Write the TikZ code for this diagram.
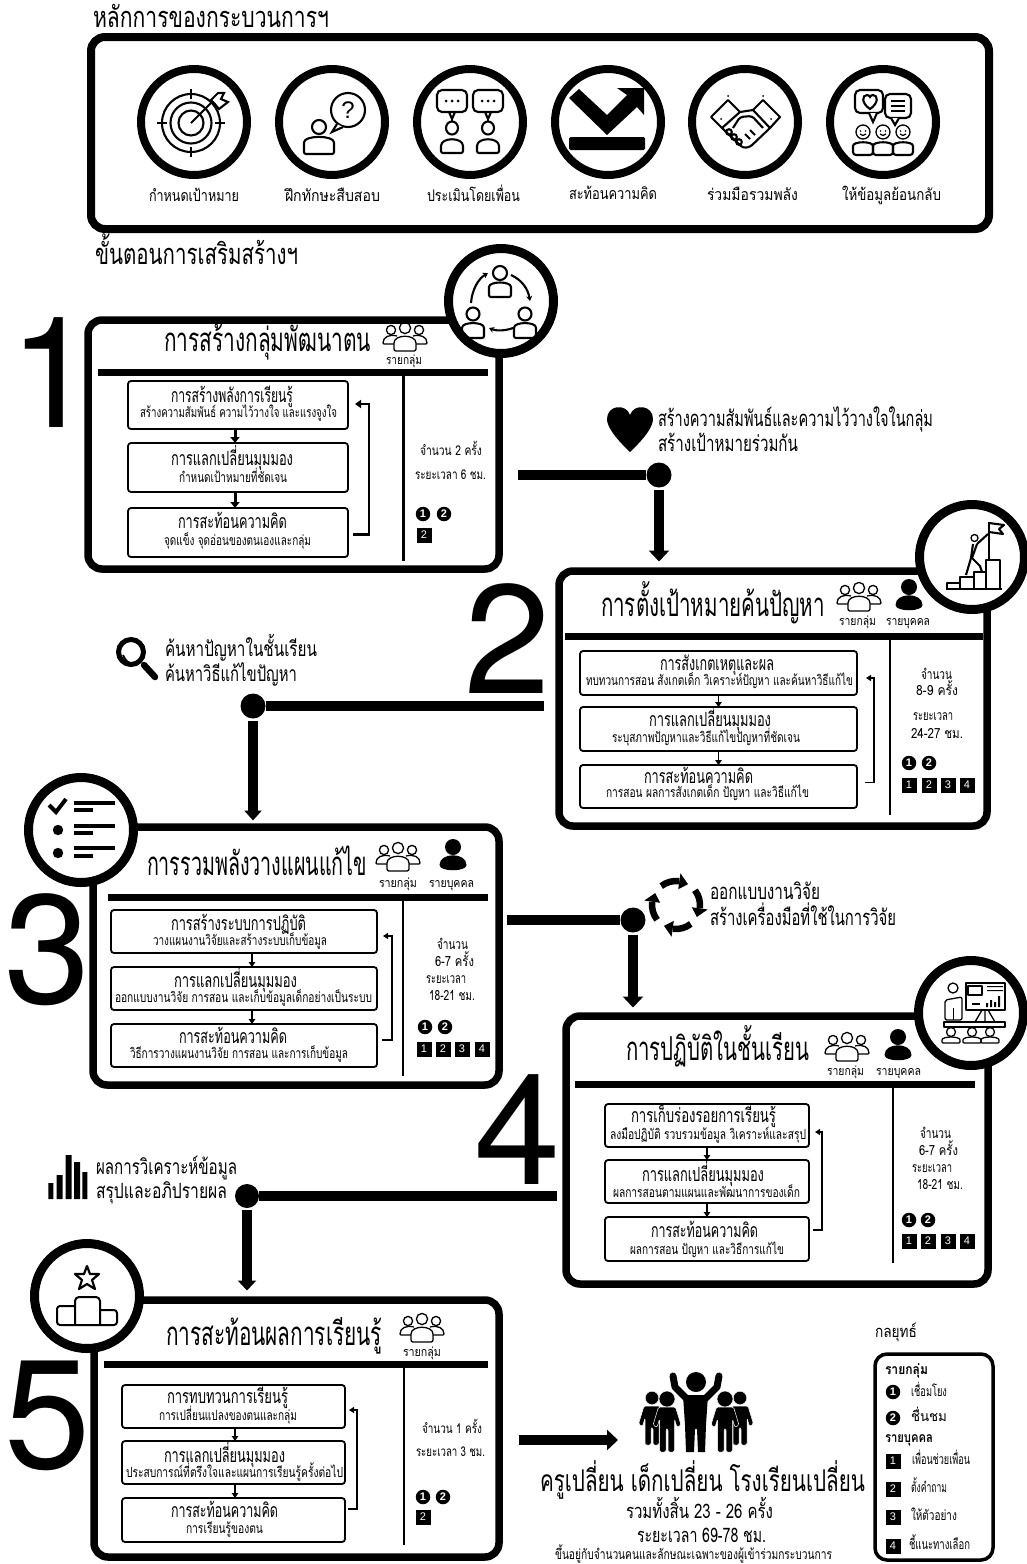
\documentclass[tikz,border=0pt]{standalone}
\usepackage{fontspec}
\usepackage{graphicx}
\usetikzlibrary{arrows.meta,calc}
\setmainfont{Liberation Sans}
\newfontfamily\thaif[Script=Thai]{Loma}
\newfontfamily\numf{TeX Gyre Heros}

\newsavebox\lblbox
\newcounter{lblnum}
\newcounter{chipnum}
% thai label set at size #5, stretched to span #2..#3 on the line centred at #4
\newcommand\lbl[6][]{%
  \stepcounter{lblnum}%
  \node[anchor=base,inner sep=0pt,outer sep=0pt] (t\arabic{lblnum}) at ({(#2+#3)/2},{#4+.27*#5}) {%
    \sbox\lblbox{\fontsize{#5}{#5}\selectfont\thaif #1{}#6}%
    \pgfmathsetmacro\lblnat{\the\wd\lblbox}%
    \pgfmathsetmacro\lblsc{(#3-#2)/\lblnat}%
    \scalebox{\lblsc}[1]{\usebox\lblbox}};%
}
% rectangle node from its edge coordinates
\newcommand\rectnode[6]{%
  \pgfmathsetmacro\rw{#5-#3}\pgfmathsetmacro\rh{#6-#4}%
  \node[#1,minimum width=\rw pt,minimum height=\rh pt] (#2) at ({(#3+#5)/2},{(#4+#6)/2}) {};%
}
\newcommand\roundchip[3]{\stepcounter{chipnum}\node[chipr] (ch\arabic{chipnum}) at (#1,#2) {#3};}
\newcommand\squarechip[3]{\stepcounter{chipnum}\node[chips] (ch\arabic{chipnum}) at (#1,#2) {#3};}
% outlined bust: x, head y, head radius, half width, base y
\newcommand\bust[5]{%
  \draw[icm] (#1,#2) circle (#3);
  \draw[icm,rounded corners=2pt] ({#1-#4},#5) -- ({#1-#4},{#5-(#5-#2-#3-1)*.5}) .. controls ({#1-#4},{#2+#3+1}) and ({#1+#4},{#2+#3+1}) .. ({#1+#4},{#5-(#5-#2-#3-1)*.5}) -- ({#1+#4},#5) -- cycle;
}
% group of three, outlined
\newcommand\groupicon[2]{%
  \begin{scope}[shift={(#1,#2)}]
    \draw[icl] (0,-9) circle (5.6);
    \draw[icl] (-14,-7) circle (4.6);
    \draw[icl] (14,-7) circle (4.6);
    \draw[icl,rounded corners=2pt] (-11,14) -- (-11,8) .. controls (-11,-3) and (11,-3) .. (11,8) -- (11,14) -- cycle;
    \draw[icl,rounded corners=1pt] (-8,-1) .. controls (-16,-3) and (-22,0) .. (-22,7) -- (-11,7);
    \draw[icl,rounded corners=1pt] (8,-1) .. controls (16,-3) and (22,0) .. (22,7) -- (11,7);
  \end{scope}}
% single solid figure
\newcommand\soloicon[2]{%
  \begin{scope}[shift={(#1,#2)}]
    \fill (0,-8) circle (8);
    \fill (-13.5,10) .. controls (-13.5,-3) and (13.5,-3) .. (13.5,10) .. controls (13.5,17) and (-13.5,17) .. (-13.5,10) -- cycle;
  \end{scope}}
% solid standing figure for the crowd: x, head y, head radius, half width, leg end
\newcommand\standman[5]{%
  \begin{scope}[shift={(#1,#2)}]
    \fill[draw=white,line width=.5pt] (0,0) circle (#3);
    \fill[draw=white,line width=.5pt,rounded corners=1.5pt] ({-#4},8) -- (#4,8) -- ({#4+5.5},26) -- ({#4+1.5},28.5) -- ({#4-1},20) -- ({#4-1},#5) -- (1,#5) -- (1,30) -- (-1,30) -- (-1,#5) -- ({-#4+1},#5) -- ({-#4+1},20) -- ({-#4-1.5},28.5) -- ({-#4-5.5},26) -- cycle;
  \end{scope}}

\tikzset{
  panel/.style={draw=black,line width=7.5pt,rounded corners=14pt,fill=white,inner sep=0pt,outer sep=0pt},
  stagebox/.style={draw=black,line width=1.8pt,rounded corners=3pt,fill=white,inner sep=0pt,outer sep=0pt},
  badge/.style={circle,draw=black,line width=8pt,fill=white,inner sep=0pt,minimum size=106pt},
  joint/.style={circle,fill=black,inner sep=0pt,minimum size=25pt},
  trunk/.style={line width=10pt},
  flow/.style={line width=10.5pt,-{Triangle[width=20pt,length=11pt]}},
  stepthick/.style={line width=3pt,-{Triangle[width=9pt,length=6pt]}},
  stepthin/.style={line width=1.6pt,-{Triangle[width=6.5pt,length=5pt]}},
  backthick/.style={line width=2.4pt,-{Triangle[width=8pt,length=6pt]}},
  backthin/.style={line width=1.7pt,-{Triangle[width=6pt,length=5pt]}},
  rule/.style={line width=7pt},
  split/.style={line width=2.5pt},
  icl/.style={line width=1.3pt},
  icm/.style={line width=2.1pt},
  chipr/.style={circle,fill=black,text=white,inner sep=0pt,minimum size=14.5pt,font=\fontsize{11}{11}\selectfont\bfseries},
  chips/.style={rectangle,fill=black,text=white,inner sep=0pt,minimum size=15pt,font=\fontsize{11}{11}\selectfont},
  bignum/.style={inner sep=0pt,outer sep=0pt,font=\fontsize{155}{155}\selectfont\numf}
}

\begin{document}
\begin{tikzpicture}[x=1pt,y=-1pt]
\useasboundingbox (0,0) rectangle (1027,1564);
\fill[white] (0,0) rectangle (1027,1564);

% ---- principles ----
\lbl{93}{329}{20}{29}{หลักการของกระบวนการฯ}
\rectnode{panel,line width=8pt}{principles}{91}{37}{989}{229}
\node[badge] (c1) at (194,122) {};
\node[badge] (c2) at (332,122) {};
\node[badge] (c3) at (470,122) {};
\node[badge] (c4) at (608,122) {};
\node[badge] (c5) at (745,122) {};
\node[badge] (c6) at (883,122) {};
\lbl{149}{239}{197}{16}{กำหนดเป้าหมาย}
\lbl{285}{380}{197}{16}{ฝึกทักษะสืบสอบ}
\lbl{427}{520}{197}{16}{ประเมินโดยเพื่อน}
\lbl{569}{657}{195}{16}{สะท้อนความคิด}
\lbl{707}{798}{196}{16}{ร่วมมือรวมพลัง}
\lbl{842}{941}{196}{16}{ให้ข้อมูลย้อนกลับ}

% target
\begin{scope}[shift={(191,123)}]
  \draw[icm] (0,0) circle (29) (0,0) circle (20.5) (0,0) circle (12.5);
  \draw[icm] (0,-34) -- (0,-24) (0,34) -- (0,24) (-34,0) -- (-24,0) (34,0) -- (24,0);
  \draw[icm] (0,0) -- (23,-23);
  \draw[icm,fill=white] (20,-23) -- (27,-30) -- (33,-30) -- (30,-24) -- (37,-21) -- (28,-14) -- (23,-20) -- cycle;
\end{scope}
% asking person
\begin{scope}[shift={(332,122)}]
  \bust{-13}{5}{7}{15}{32}
  \draw[icm] (16,-12) circle (17);
  \draw[icm,fill=white] (5,2) -- (0,10) -- (11,5);
  \node[inner sep=0pt] (qmark) at (16,-12) {\fontsize{24}{24}\selectfont ?};
\end{scope}
% peer talk
\begin{scope}[shift={(470,122)}]
  \foreach \s in {-18,18} {
    \draw[icm,rounded corners=5pt] ({\s-15},-32) rectangle ({\s+15},-10);
    \fill ({\s-6},-21) circle (1.5) (\s,-21) circle (1.5) ({\s+6},-21) circle (1.5);
    \draw[icm] ({\s-3},-10) -- (\s,-3) -- ({\s+3},-10);
    \draw[icm] (\s,-3) -- (\s,0);
    \draw[icm] (\s,6) ellipse (6 and 6.5);
    \draw[icm,rounded corners=2pt] ({\s-11},31) -- ({\s-11},26) .. controls ({\s-11},15) and ({\s+11},15) .. ({\s+11},26) -- ({\s+11},31) -- cycle;
  }
\end{scope}
% reflect arrow
\begin{scope}[shift={(608,120)}]
  \fill (-39,-22) -- (-29,-31) -- (-1,-5) -- (19,-25) -- (9,-32) -- (36,-32) -- (36,-5) -- (29,-13) -- (-1,15) -- cycle;
  \fill[rounded corners=1.5pt] (-39,17) rectangle (37,30);
\end{scope}
% handshake
\begin{scope}[shift={(745,120)}]
  \draw[icm,line join=round] (-34,-3) -- (-17,-20) -- (-5,-8) -- (-23,8) -- cycle;
  \draw[icm,line join=round] (35,-3) -- (18,-20) -- (8,-10) -- (25,8) -- cycle;
  \draw[icm,rounded corners=2pt] (-5,-8) -- (8,-10);
  \draw[icm,rounded corners=3pt] (-23,8) -- (-2,28) -- (5,27) -- (25,8);
  \draw[icm,rounded corners=3pt] (-12,8) -- (-5,-3) -- (7,-4) -- (18,8);
  \draw[icm] (-16,12) circle (2.8) (-11,17) circle (2.8) (-6,22) circle (2.8);
  \draw[icm] (0,14) -- (5,19) (5,10) -- (10,15);
  \fill (-24,-1) circle (1) (26,-1) circle (1) (-17,-24) circle (1) (18,-24) circle (1);
\end{scope}
% feedback
\begin{scope}[shift={(883,120)}]
  \draw[icm,rounded corners=5pt] (-28,-30) rectangle (0,-7);
  \draw[icm,fill=white] (-14,-7) -- (-10,2) -- (-6,-7);
  \draw[icm] (-13,-11) .. controls (-22,-17) and (-21,-25) .. (-16,-25) .. controls (-14.5,-25) and (-13.5,-24) .. (-13,-23) .. controls (-12.5,-24) and (-11.5,-25) .. (-10,-25) .. controls (-5,-25) and (-4,-17) .. (-13,-11) -- cycle;
  \draw[icm,rounded corners=5pt,fill=white] (2,-26) rectangle (28,-2);
  \draw[icm,fill=white] (8,-2) -- (12,5) -- (16,-2);
  \draw[icm] (8,-19) -- (22,-19) (8,-14) -- (22,-14) (8,-9) -- (22,-9);
  \foreach \s in {-20,0,20} {
    \draw[icl] (\s,12) circle (7);
    \fill ({\s-2.5},11) circle (.8) ({\s+2.5},11) circle (.8);
    \draw[icl] ({\s-3},14) .. controls ({\s-1},16) and ({\s+1},16) .. ({\s+3},14);
    \draw[icm,rounded corners=3pt] ({\s-10},35) -- ({\s-10},29) .. controls ({\s-10},21) and ({\s+10},21) .. ({\s+10},29) -- ({\s+10},35) -- cycle;
  }
\end{scope}

\lbl{95}{298}{257}{29}{ขั้นตอนการเสริมสร้างฯ}

% ---- stage panels first, so the links can name them ----
\rectnode{panel}{p2}{559}{571}{987}{826}
\rectnode{panel}{p3}{93}{827}{499}{1085}
\rectnode{panel}{p4}{566}{1016}{988}{1284}
\rectnode{panel}{p5}{94}{1300}{499}{1557}

% ---- stage 1 ----
\node[bignum] (n1) at (53,373) {1};
\rectnode{panel}{p1}{88}{320}{499}{569}
\draw[rule] (98,372) -- (488,372);
\draw[split] (403.5,375) -- (403.5,561);
\lbl{164}{371}{343}{33}{การสร้างกลุ่มพัฒนาตน}
\groupicon{405}{337}
\lbl{386}{422}{361}{12.5}{รายกลุ่ม}
\rectnode{stagebox}{p1a}{128}{381}{348}{429}
\rectnode{stagebox}{p1b}{128}{443}{348}{492}
\rectnode{stagebox}{p1c}{128}{508}{348}{557}
\lbl{171}{293}{397}{19.5}{การสร้างพลังการเรียนรู้}
\lbl{140}{337}{414}{14}{สร้างความสัมพันธ์ ความไว้วางใจ และแรงจูงใจ}
\lbl{171}{293}{460}{19.5}{การแลกเปลี่ยนมุมมอง}
\lbl{179}{287}{479}{14}{กำหนดเป้าหมายที่ชัดเจน}
\lbl{178}{287}{523}{19.5}{การสะท้อนความคิด}
\lbl{164}{311}{542}{14}{จุดแข็ง จุดอ่อนของตนเองและกลุ่ม}
\draw[stepthick] ([xshift=-3pt]p1a.south) -- ([xshift=-3pt]p1b.north);
\draw[stepthick] ([xshift=-3pt]p1b.south) -- ([xshift=-3pt]p1c.north);
\draw[backthick] ([shift={(5,2)}]p1c.east) -- ++(16,0) |- ([shift={(7,-1)}]p1a.east);
\lbl{420}{482}{452}{13.5}{จำนวน 2 ครั้ง}
\lbl{415}{486}{476}{13.5}{ระยะเวลา 6 ชม.}
\roundchip{423}{514}{1}\roundchip{444}{514}{2}
\squarechip{424}{535}{2}
\node[badge,minimum size=105pt,line width=9pt] (b1) at (501,301) {};
\begin{scope}
  \bust{500}{273}{7}{11}{297}
  \bust{473}{314}{6.5}{11}{338}
  \bust{525}{314}{6.5}{11}{338}
  \draw[icm,-{Stealth[width=6pt,length=5pt]}] (471,303) .. controls (472,290) and (478,279) .. (488,273);
  \draw[icm,-{Stealth[width=6pt,length=5pt]}] (511,275) .. controls (522,280) and (528,289) .. (530,301);
  \draw[icm,-{Stealth[width=6pt,length=5pt]}] (513,328) .. controls (505,331) and (496,331) .. (489,328);
\end{scope}
% link 1 to 2
\node[joint] (d1) at (659,475) {};
\coordinate (s1) at (518,475);
\draw[trunk] (s1) -- (d1);
\draw[flow] ([yshift=-2pt]d1.south) -- ([yshift=9.5pt]d1.south |- p2.north);
\fill (630,452) .. controls (612,435) and (607,425) .. (607,419) .. controls (607,405) and (626,403) .. (630,415) .. controls (634,403) and (653,405) .. (653,419) .. controls (653,425) and (648,435) .. (630,452) -- cycle;
\lbl{658}{933}{421}{22}{สร้างความสัมพันธ์และความไว้วางใจในกลุ่ม}
\lbl{658}{798}{446}{22}{สร้างเป้าหมายร่วมกัน}

% ---- stage 2 ----
\node[bignum] (n2) at (508,639) {2};
\draw[rule] (565,636) -- (983,636);
\draw[split] (890,640) -- (890,815);
\lbl{601}{825}{608}{33}{การตั้งเป้าหมายค้นปัญหา}
\groupicon{859}{597}
\soloicon{909}{595}
\lbl{839}{876}{622}{12.5}{รายกลุ่ม}
\lbl{886}{930}{622}{12.5}{รายบุคคล}
\rectnode{stagebox}{p2a}{580}{651}{857}{695}
\rectnode{stagebox}{p2b}{580}{707}{857}{751}
\rectnode{stagebox}{p2c}{580}{765}{857}{808}
\lbl{660}{774}{665}{19.5}{การสังเกตเหตุและผล}
\lbl{586}{853}{682}{14}{ทบทวนการสอน สังเกตเด็ก วิเคราะห์ปัญหา และค้นหาวิธีแก้ไข}
\lbl{649}{771}{721}{19.5}{การแลกเปลี่ยนมุมมอง}
\lbl{612}{800}{739}{14}{ระบุสภาพปัญหาและวิธีแก้ไขปัญหาที่ชัดเจน}
\lbl{644}{753}{778}{19.5}{การสะท้อนความคิด}
\lbl{606}{809}{794}{14}{การสอน ผลการสังเกตเด็ก ปัญหา และวิธีแก้ไข}
\draw[stepthin] (p2a.south) -- (p2b.north);
\draw[stepthin] (p2b.south) -- (p2c.north);
\draw[backthin] ([shift={(8,-4)}]p2c.east) -- ++(9,0) |- ([shift={(9,5)}]p2a.east);
\lbl{921}{952}{676}{14}{จำนวน}
\lbl{916}{958}{692}{14}{8-9 ครั้ง}
\lbl{913}{953}{717}{14}{ระยะเวลา}
\lbl{911}{963}{735}{14}{24-27 ชม.}
\roundchip{909}{763}{1}\roundchip{929}{763}{2}
\squarechip{909}{785}{1}\squarechip{929}{785}{2}\squarechip{948}{785}{3}\squarechip{967}{785}{4}
\node[badge,line width=9pt,minimum size=105pt] (b2) at (972,557) {};
\begin{scope}[line join=round]
  \draw[icm] (946,589) -- (1002,589);
  \draw[icm] (947,589) -- (947,583) -- (960,583) -- (960,577) -- (974,577) -- (974,572) -- (986,572) -- (986,560) -- (1000,560) -- (1000,589);
  \draw[icm] (960,583) -- (960,589) (974,577) -- (974,589) (986,572) -- (986,589);
  \draw[icm] (989,522) -- (989,560);
  \draw[icm] (989,523) -- (1004,525) -- (999,529) -- (1003,534) -- (989,532);
  \draw[icl] (974.5,538) circle (3.5);
  \draw[icm] (977,544) -- (988,534);
  \draw[icm] (977,544) -- (972,558) -- (980,566) -- (982,572);
  \draw[icm] (973,544) -- (971,558) -- (966,575);
\end{scope}
% link 2 to 3
\node[joint] (d2) at (253,706) {};
\coordinate (s2) at (544,706);
\draw[trunk] (s2) -- (d2);
\draw[flow,line width=9.5pt,-{Triangle[width=17pt,length=10pt]}] ([yshift=-2pt]d2.south) -- ([yshift=6.5pt]d2.south |- p3.north);
\draw[line width=5pt] (131,652) circle (12.5);
\draw[line width=6.5pt,line cap=round] (144,665) -- (155,677);
\draw[line width=1.8pt] (123,655) .. controls (125,660) and (128,663) .. (133,664);
\lbl{165}{317}{651}{21}{ค้นหาปัญหาในชั้นเรียน}
\lbl{165}{297}{676}{21}{ค้นหาวิธีแก้ไขปัญหา}

% ---- stage 3 ----
\node[bignum] (n3) at (48,950) {3};
\draw[rule] (108,897) -- (488,897);
\draw[split] (403,900) -- (403,1076);
\lbl{147}{367}{867}{33}{การรวมพลังวางแผนแก้ไข}
\groupicon{398}{857}
\soloicon{453}{855}
\lbl{379}{417}{884}{12.5}{รายกลุ่ม}
\lbl{429}{474}{884}{12.5}{รายบุคคล}
\rectnode{stagebox}{p3a}{111}{910}{377}{953}
\rectnode{stagebox}{p3b}{111}{967}{377}{1010}
\rectnode{stagebox}{p3c}{111}{1024}{377}{1067}
\lbl{171}{306}{925}{19.5}{การสร้างระบบการปฏิบัติ}
\lbl{153}{327}{942}{14}{วางแผนงานวิจัยและสร้างระบบเก็บข้อมูล}
\lbl{174}{297}{982}{19.5}{การแลกเปลี่ยนมุมมอง}
\lbl{115}{372}{999}{14}{ออกแบบงานวิจัย การสอน และเก็บข้อมูลเด็กอย่างเป็นระบบ}
\lbl{179}{287}{1038}{19.5}{การสะท้อนความคิด}
\lbl{130}{348}{1055}{14}{วิธีการวางแผนงานวิจัย การสอน และการเก็บข้อมูล}
\draw[stepthin] ([xshift=8pt]p3a.south) -- ([xshift=8pt]p3b.north);
\draw[stepthin] ([xshift=8pt]p3b.south) -- ([xshift=8pt]p3c.north);
\draw[backthin] ([shift={(5,-5.5)}]p3c.east) -- ++(10,0) |- ([shift={(6,4.5)}]p3a.east);
\lbl{437}{468}{946}{14}{จำนวน}
\lbl{435}{474}{963}{14}{6-7 ครั้ง}
\lbl{426}{466}{980}{14}{ระยะเวลา}
\lbl{429}{475}{997}{14}{18-21 ชม.}
\roundchip{425}{1027}{1}\roundchip{445}{1027}{2}
\squarechip{424}{1049}{1}\squarechip{443}{1049}{2}\squarechip{462}{1049}{3}\squarechip{482}{1049}{4}
\node[badge,line width=9pt,minimum size=105pt] (b3) at (81,830) {};
\draw[line width=4pt,line join=miter] (49,805) -- (56,812) -- (66,799);
\foreach \yy/\ys in {803/810,826/833,848/856} {
  \draw[line width=3.5pt] (74,\yy) -- (115,\yy);
  \draw[line width=3.5pt] (74,\ys) -- (93,\ys);
}
\fill (58,830) circle (5.2) (58,853) circle (5.2);
% link 3 to 4
\node[joint] (d3) at (633,920) {};
\coordinate (s3) at (507,920);
\draw[trunk] (s3) -- (d3);
\draw[flow] ([yshift=-2pt]d3.south) -- ([yshift=8.5pt]d3.south |- p4.north);
% turning arrows
\foreach \t in {-60,30,120,210} {
  \draw[line width=6.5pt] (676,905) +({\t-68}:24) arc ({\t-68}:{\t-22}:24);
  \fill (676,905) +({\t-22}:16) -- +({\t-22}:32) -- +(\t:24) -- cycle;
}
\lbl{710}{820}{894}{22}{ออกแบบงานวิจัย}
\lbl{710}{896}{920}{22}{สร้างเครื่องมือที่ใช้ในการวิจัย}

% ---- stage 4 ----
\node[bignum] (n4) at (518,1130) {4};
\draw[rule] (575,1084) -- (975,1084);
\draw[split] (893,1088) -- (893,1263);
\lbl{626}{809}{1052}{33}{การปฏิบัติในชั้นเรียน}
\groupicon{847}{1047}
\soloicon{898}{1045}
\lbl{827}{864}{1072}{12.5}{รายกลุ่ม}
\lbl{876}{921}{1072}{12.5}{รายบุคคล}
\rectnode{stagebox}{p4a}{605}{1104}{809}{1147}
\rectnode{stagebox}{p4b}{605}{1160}{809}{1203}
\rectnode{stagebox}{p4c}{605}{1217}{809}{1261}
\lbl{631}{776}{1117}{19.5}{การเก็บร่องรอยการเรียนรู้}
\lbl{610}{806}{1136}{14}{ลงมือปฏิบัติ รวบรวมข้อมูล วิเคราะห์และสรุป}
\lbl{642}{764}{1176}{19.5}{การแลกเปลี่ยนมุมมอง}
\lbl{613}{800}{1194}{14}{ผลการสอนตามแผนและพัฒนาการของเด็ก}
\lbl{651}{758}{1232}{19.5}{การสะท้อนความคิด}
\lbl{630}{784}{1251}{14}{ผลการสอน ปัญหา และวิธีการแก้ไข}
\draw[stepthin] (p4a.south) -- (p4b.north);
\draw[stepthin] (p4b.south) -- (p4c.north);
\draw[backthin] ([shift={(4,-9)}]p4c.east) -- ++(9,0) |- ([shift={(6,6.5)}]p4a.east);
\lbl{920}{951}{1135}{14}{จำนวน}
\lbl{919}{958}{1152}{14}{6-7 ครั้ง}
\lbl{912}{952}{1169}{14}{ระยะเวลา}
\lbl{917}{963}{1186}{14}{18-21 ชม.}
\roundchip{909}{1220}{1}\roundchip{928}{1220}{2}
\squarechip{909}{1241}{1}\squarechip{928}{1241}{2}\squarechip{948}{1241}{3}\squarechip{967}{1241}{4}
\node[badge,line width=9pt,minimum size=105pt] (b4) at (971,1013) {};
\begin{scope}[line join=round]
  \draw[icl] (953,988) circle (5);
  \draw[icl,rounded corners=2pt] (945,1020) -- (945,1000) -- (962,997) -- (962,1020) -- cycle;
  \draw[icl] (953.5,1008) -- (953.5,1020);
  \draw[icl] (966,983) rectangle (1005,1010);
  \draw[icl] (968,986) rectangle (982,995);
  \fill (987,986) rectangle (1003,987) (987,990) rectangle (1003,991);
  \fill (986,1003) rectangle (988,1007) (990,1000) rectangle (992,1007) (994,1002) rectangle (996,1007) (998,996) rectangle (1000,1007);
  \draw[icl] (972,1004) -- (980,1004);
  \draw[icl] (982,1010) -- (975,1022) (985,1010) -- (985,1022) (988,1010) -- (995,1022);
  \draw[icm] (944,1022) rectangle (1005,1027);
  \foreach \hx in {951,972,990} {
    \draw[icl] (\hx,1032) circle (4.5);
    \draw[icl,rounded corners=1pt] ({\hx-9},1043) -- ({\hx-9},1041) .. controls ({\hx-9},1036) and ({\hx+9},1036) .. ({\hx+9},1041) -- ({\hx+9},1043) -- cycle;
  }
\end{scope}
% link 4 to 5
\node[joint,minimum size=24pt] (d4) at (247,1196) {};
\coordinate (s4) at (557,1196);
\draw[trunk] (s4) -- (d4);
\draw[flow,line width=10pt,-{Triangle[width=18pt,length=10pt]}] ([yshift=-2pt]d4.south) -- ([yshift=9.5pt]d4.south |- p5.north);
\fill (48.3,1183) rectangle (53.3,1199) (56.7,1175) rectangle (62.7,1199) (65.7,1155) rectangle (71.7,1199) (74,1162) rectangle (80,1199) (82.3,1172) rectangle (87.3,1199);
\lbl{96}{237}{1169}{21}{ผลการวิเคราะห์ข้อมูล}
\lbl{96}{227}{1193}{21}{สรุปและอภิปรายผล}

% ---- stage 5 ----
\node[bignum] (n5) at (48,1416) {5};
\draw[rule] (104,1364) -- (488,1364);
\draw[split] (404,1368) -- (404,1545);
\lbl{166}{382}{1337}{33}{การสะท้อนผลการเรียนรู้}
\groupicon{422}{1328}
\lbl{403}{441}{1353}{12.5}{รายกลุ่ม}
\rectnode{stagebox}{p5a}{122}{1385}{345}{1428}
\rectnode{stagebox}{p5b}{122}{1441}{345}{1484}
\rectnode{stagebox}{p5c}{122}{1498}{345}{1542}
\lbl{167}{288}{1398}{19.5}{การทบทวนการเรียนรู้}
\lbl{159}{297}{1417}{14}{การเปลี่ยนแปลงของตนและกลุ่ม}
\lbl{164}{285}{1457}{19.5}{การแลกเปลี่ยนมุมมอง}
\lbl{126}{343}{1474}{14}{ประสบการณ์ที่ตรึงใจและแผนการเรียนรู้ครั้งต่อไป}
\lbl{171}{278}{1512}{19.5}{การสะท้อนความคิด}
\lbl{186}{263}{1530}{14}{การเรียนรู้ของตน}
\draw[stepthin] ([xshift=1.5pt]p5a.south) -- ([xshift=1.5pt]p5b.north);
\draw[stepthin] ([xshift=1.5pt]p5b.south) -- ([xshift=1.5pt]p5c.north);
\draw[backthin] ([shift={(3,-11)}]p5c.east) -- ++(9,0) |- ([shift={(4,3.5)}]p5a.east);
\lbl{422}{482}{1430}{13.5}{จำนวน 1 ครั้ง}
\lbl{416}{485}{1453}{13.5}{ระยะเวลา 3 ชม.}
\roundchip{423}{1497}{1}\roundchip{443}{1497}{2}
\squarechip{423}{1517}{2}
\node[badge,line width=9pt,minimum size=105pt] (b5) at (87,1296) {};
\begin{scope}[line join=round]
  \draw[icm,line width=2.2pt] (87,1266) -- (90,1274) -- (99,1274) -- (92,1280) -- (95,1289) -- (87,1284) -- (79,1289) -- (82,1280) -- (75,1274) -- (84,1274) -- cycle;
  \draw[icm,line width=2pt,rounded corners=4pt] (75,1325) -- (75,1297) -- (100,1297) -- (100,1325);
  \draw[icm,line width=2pt,rounded corners=3pt] (75,1306) -- (57,1306) -- (57,1325) -- (117,1325) -- (117,1310) -- (100,1310);
\end{scope}

% ---- outcome ----
\coordinate (s5) at (519,1440);
\coordinate (crowd) at (618,1440);
\draw[flow] (s5) -- (crowd);
\standman{652}{1398}{6.8}{8}{47}
\standman{740}{1398}{6.8}{8}{47}
\standman{667}{1399}{8}{8.5}{53}
\standman{725}{1399}{8}{8.5}{53}
\begin{scope}
  \fill (696,1382) circle (10);
  \fill (683,1395) -- (708,1395) -- (706,1425) -- (705,1452) -- (698,1452) -- (697,1429) -- (695,1429) -- (694,1452) -- (686,1452) -- (685,1425) -- cycle;
  \draw[line width=7pt,line cap=round,line join=round] (686,1398) -- (675,1387) -- (673,1376);
  \draw[line width=7pt,line cap=round,line join=round] (706,1398) -- (717,1387) -- (719,1376);
\end{scope}
\lbl{540}{865}{1483}{30}{ครูเปลี่ยน เด็กเปลี่ยน โรงเรียนเปลี่ยน}
\lbl{626}{773}{1513}{20}{รวมทั้งสิ้น 23 - 26 ครั้ง}
\lbl{637}{766}{1537}{20}{ระยะเวลา 69-78 ชม.}
\lbl{555}{832}{1556}{14}{ขึ้นอยู่กับจำนวนคนและลักษณะเฉพาะของผู้เข้าร่วมกระบวนการ}

% ---- strategy key ----
\lbl{875}{917}{1333}{16.5}{กลยุทธ์}
\rectnode{draw=black,line width=3.5pt,rounded corners=12pt,fill=white}{keybox}{875}{1354}{993}{1560}
\lbl[\bfseries]{885}{928}{1371}{14}{รายกลุ่ม}
\roundchip{893}{1392}{1}
\lbl{911}{947}{1393}{14}{เชื่อมโยง}
\roundchip{893}{1418}{2}
\lbl{911}{947}{1418}{14}{ชื่นชม}
\lbl[\bfseries]{885}{933}{1439}{14}{รายบุคคล}
\squarechip{893}{1461}{1}
\lbl{912}{970}{1461}{14}{เพื่อนช่วยเพื่อน}
\squarechip{893}{1489}{2}
\lbl{911}{947}{1489}{14}{ตั้งคำถาม}
\squarechip{893}{1517}{3}
\lbl{911}{957}{1517}{14}{ให้ตัวอย่าง}
\squarechip{893}{1546}{4}
\lbl{909}{970}{1546}{14}{ชี้แนะทางเลือก}
\end{tikzpicture}
\end{document}
